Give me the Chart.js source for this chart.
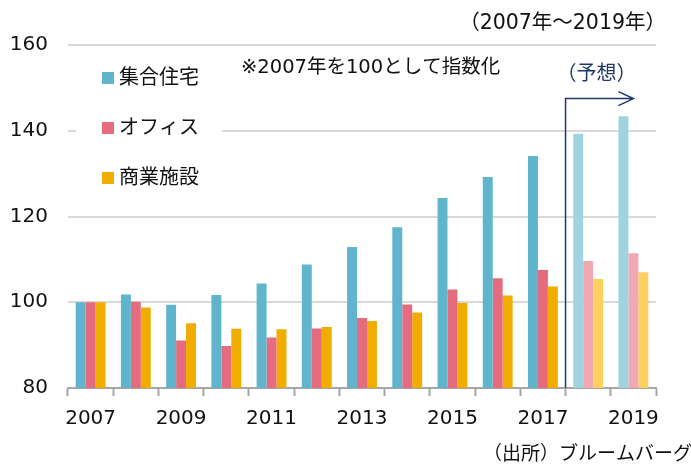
<!DOCTYPE html>
<html>
<head>
<meta charset="utf-8">
<script src="https://cdn.jsdelivr.net/npm/chart.js@4"></script>
<style>
  body { margin: 0; background: #fff; }
  canvas { display: block; }
</style>
</head>
<body>
<canvas id="indexChart" width="691" height="467"></canvas>
<script>
const years = ['2007', '2008', '2009', '2010', '2011', '2012', '2013', '2014', '2015', '2016', '2017', '2018', '2019'];
const housing = [100, 101.8, 99.4, 101.7, 104.4, 108.8, 112.9, 117.5, 124.3, 129.2, 134.1, 139.3, 143.4];
const office = [100, 100.1, 91.1, 89.8, 91.8, 93.9, 96.3, 99.5, 103.0, 105.6, 107.5, 109.6, 111.4];
const retail = [100, 98.8, 95.1, 93.8, 93.7, 94.2, 95.6, 97.6, 99.8, 101.6, 103.7, 105.4, 107.0];
const yTicks = [80, 100, 120, 140, 160];
const forecastFrom = 11; // 2018 onward is forecast

const JP = "'DejaVu Sans', 'Noto Sans CJK JP', sans-serif";
const NAVY = '#1f3768';

function colorsFor(normal, light) {
    return years.map((_, i) => i >= forecastFrom ? light : normal);
}

const seriesColors = ['#60b4cc', '#e56b7f', '#f1ac00'];

// legend, notes and the forecast arrow
const overlay = {
    id: 'overlay',
    afterDraw(chart) {
        const ctx = chart.ctx;
        const x = chart.scales.x;
        const y = chart.scales.y;
        ctx.save();

        // legend box (covers gridlines)
        ctx.fillStyle = '#fff';
        ctx.fillRect(76, 56, 146, 144);
        ctx.textBaseline = 'middle';
        ctx.font = '20px ' + JP;
        chart.data.datasets.forEach((ds, i) => {
            const cy = 78 + i * 50;
            ctx.fillStyle = seriesColors[i];
            ctx.fillRect(102, cy - 6, 12, 12);
            ctx.fillStyle = '#111';
            ctx.fillText(ds.label, 119, cy + 1);
        });

        // notes
        ctx.fillStyle = '#111';
        ctx.font = '19.5px ' + JP;
        ctx.fillText('※2007年を100として指数化', 241, 68);
        ctx.textAlign = 'right';
        ctx.font = '20.5px ' + JP;
        ctx.fillText('（2007年～2019年）', 666, 24);
        ctx.font = '19px ' + JP;
        ctx.fillText('（出所）ブルームバーグ', 692, 455);

        // forecast arrow
        const xs = (x.getPixelForValue(forecastFrom - 1) + x.getPixelForValue(forecastFrom)) / 2;
        const xe = x.getPixelForValue(years.length - 1);
        const ya = y.getPixelForValue(147.5);
        ctx.strokeStyle = NAVY;
        ctx.lineWidth = 1.5;
        ctx.beginPath();
        ctx.moveTo(xs, y.bottom);
        ctx.lineTo(xs, ya);
        ctx.lineTo(xe, ya);
        ctx.moveTo(xe - 15, ya - 7);
        ctx.lineTo(xe, ya);
        ctx.lineTo(xe - 15, ya + 7);
        ctx.stroke();
        ctx.fillStyle = NAVY;
        ctx.textAlign = 'center';
        ctx.font = '20px ' + JP;
        ctx.fillText('（予想）', (xs + xe) / 2 - 3, 75);
        ctx.restore();
    }
};

const ctx = document.getElementById('indexChart').getContext('2d');
new Chart(ctx, {
    type: 'bar',
    data: {
        labels: years,
        datasets: [
            { label: '集合住宅', data: housing, backgroundColor: colorsFor('#60b4cc', '#a0d3e0') },
            { label: 'オフィス', data: office, backgroundColor: colorsFor('#e56b7f', '#f2a8b3') },
            { label: '商業施設', data: retail, backgroundColor: colorsFor('#f1ac00', '#ffd05e') }
        ]
    },
    options: {
        responsive: false,
        animation: false,
        events: [],
        layout: { padding: { left: 0, top: 45, right: 35, bottom: 0 } },
        datasets: { bar: { barPercentage: 1.0, categoryPercentage: 0.66 } },
        plugins: { legend: { display: false }, tooltip: { enabled: false } },
        scales: {
            x: {
                afterFit: s => { s.height = 79; },
                border: { color: '#a6a6a6', width: 2 },
                grid: { drawOnChartArea: false, drawTicks: true, tickLength: 8, tickColor: '#a6a6a6', tickWidth: 2 },
                ticks: {
                    autoSkip: false,
                    maxRotation: 0,
                    padding: 11,
                    color: '#111',
                    font: { family: JP, size: 20 },
                    callback: (v, i) => i % 2 === 0 ? years[i] : ''
                }
            },
            y: {
                min: 80,
                max: 160,
                afterFit: s => { s.width = 68; },
                afterBuildTicks: s => { s.ticks = yTicks.map(v => ({ value: v })); },
                border: { display: false },
                grid: {
                    drawTicks: false,
                    lineWidth: 2,
                    color: c => c.tick && c.tick.value === 80 ? 'rgba(0,0,0,0)' : '#d9d9d9'
                },
                ticks: {
                    padding: 20,
                    color: '#111',
                    font: { family: JP, size: 20 }
                }
            }
        }
    },
    plugins: [overlay]
});
</script>
</body>
</html>
